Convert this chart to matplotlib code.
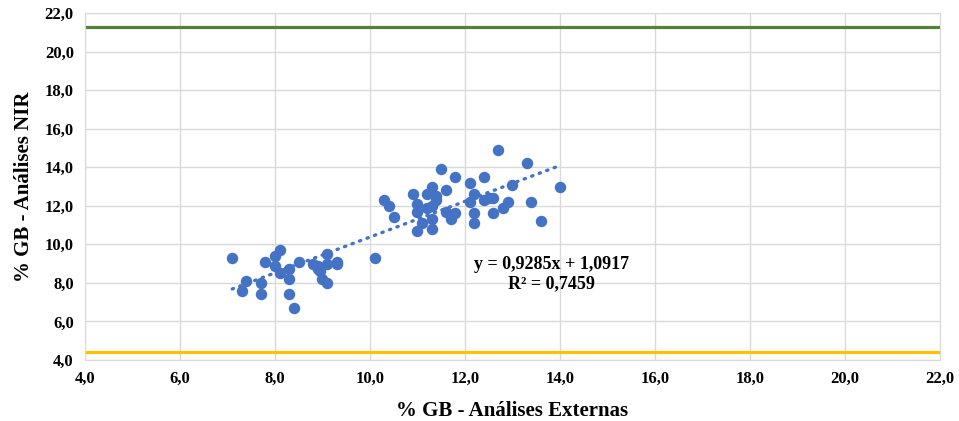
import matplotlib.pyplot as plt
import numpy as np

# Data
ext = [7.1, 7.4, 7.3, 7.7, 7.7, 7.8, 8.0, 8.1, 8.0, 8.1, 8.3, 8.3, 8.3, 8.4, 8.5,
       8.8, 8.9, 9.0, 9.1, 9.1, 9.1, 9.3, 9.3, 10.1, 8.9, 8.95,
       12.7, 13.3, 14.0, 13.6, 13.4, 13.0, 12.9, 12.8, 12.6, 12.6, 12.4, 12.4, 12.5,
       12.2, 12.2, 12.2, 12.1, 12.1, 11.8, 11.8, 11.7, 11.6, 11.6, 11.5, 11.3, 11.4,
       11.4, 11.3, 11.2, 11.2, 11.3, 11.3, 11.1, 11.0, 11.0, 11.0, 10.9, 10.5, 10.4, 10.3]
nir = [9.3, 8.1, 7.6, 8.0, 7.4, 9.1, 9.4, 9.7, 8.9, 8.5, 8.7, 8.2, 7.4, 6.7, 9.1,
       9.0, 8.7, 8.2, 8.0, 9.5, 9.0, 9.1, 9.0, 9.3, 8.9, 8.6,
       14.9, 14.2, 13.0, 11.2, 12.2, 13.1, 12.2, 11.9, 12.4, 11.6, 13.5, 12.3, 12.4,
       12.6, 11.6, 11.1, 13.2, 12.2, 13.5, 11.6, 11.3, 12.8, 11.7, 13.9, 13.0, 12.5,
       12.3, 12.0, 12.6, 11.9, 11.3, 10.8, 11.1, 10.7, 12.1, 11.7, 12.6, 11.4, 12.0, 12.3]
slope, intercept = 0.9285, 1.0917
upper_limit = 21.3
lower_limit = 4.4

plt.rcParams['font.family'] = ['Liberation Serif', 'DejaVu Serif']

fig = plt.figure(figsize=(9.59, 4.21), dpi=100)
ax = fig.add_axes([0.0886, 0.145, 0.8916, 0.824])

ax.axhline(upper_limit, color='#548235', lw=2.3, zorder=2)
ax.axhline(lower_limit, color='#FFC000', lw=2.3, zorder=2)

ax.scatter(ext, nir, s=68, color='#4472C4', zorder=3, linewidths=0)

xt = np.array([min(ext), max(ext)])
ax.plot(xt, slope * xt + intercept, color='#4472C4', lw=2.4,
        linestyle=(0, (0.4, 2.0)), dash_capstyle='round', zorder=4)

ax.text(0.546, 0.248, 'y = 0,9285x + 1,0917\nR² = 0,7459', transform=ax.transAxes,
        ha='center', va='center', fontsize=13, fontweight='bold', linespacing=1.15)

ax.set_xlim(4, 22)
ax.set_ylim(4, 22)
ticks = np.arange(4, 23, 2)
ax.set_xticks(ticks)
ax.set_yticks(ticks)
ax.set_xticklabels([f'{t:.1f}'.replace('.', ',') for t in ticks], fontsize=12, fontweight='bold')
ax.set_yticklabels([f'{t:.1f}'.replace('.', ',') for t in ticks], fontsize=12, fontweight='bold')
ax.tick_params(length=0, pad=8)
ax.grid(True, color='#D9D9D9', lw=1)
ax.set_axisbelow(True)
for s in ax.spines.values():
    s.set_color('#D9D9D9')
ax.set_xlabel('% GB - Análises Externas', fontsize=15, fontweight='bold', labelpad=10)
ax.set_ylabel('% GB - Análises NIR', fontsize=15, fontweight='bold', labelpad=8)

fig.savefig('out.png', dpi=100)
